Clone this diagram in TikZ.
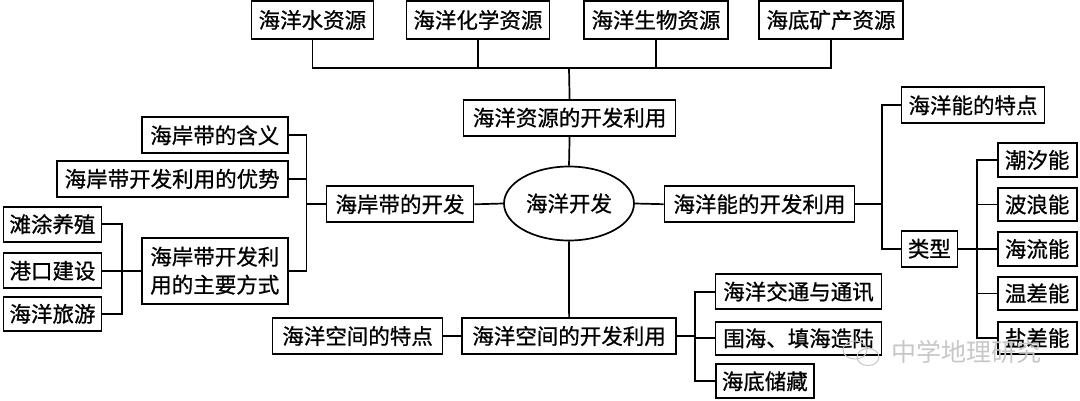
\documentclass[tikz,border=0pt]{standalone}
\usepackage{fontspec}
\newfontfamily\cjk[FakeBold=0.8]{Noto Sans CJK SC}
\newfontfamily\cjkwm{Noto Sans CJK SC}
\usetikzlibrary{shapes.geometric}
\tikzset{
  box/.style={draw, line width=1.7pt, inner sep=0pt, font=\cjk\fontsize{21.5}{28}\selectfont, align=center},
  conn/.style={line width=1.7pt},
  wm/.style={text=black!22, font=\cjkwm\fontsize{25}{28}\selectfont, inner sep=0pt}
}
\begin{document}
\begin{tikzpicture}[x=1pt,y=-1pt]
\useasboundingbox (0,0) rectangle (1080,400);
% top resources
\node[box, minimum width=122, minimum height=38] (t1) at (312.4,20) {海洋水资源};
\node[box, minimum width=143, minimum height=38] (t2) at (477.9,20) {海洋化学资源};
\node[box, minimum width=144, minimum height=38] (t3) at (656,20) {海洋生物资源};
\node[box, minimum width=144, minimum height=38] (t4) at (831,20) {海底矿产资源};
\node[box, minimum width=212, minimum height=36] (res) at (569.6,117.7) {海洋资源的开发利用};
% center
\node[box, ellipse, minimum width=130, minimum height=74] (ell) at (569,203.5) {海洋开发};
% coast
\node[box, minimum width=147, minimum height=36] (coast) at (400,204.3) {海岸带的开发};
\node[box, minimum width=146, minimum height=36] (hy) at (214.8,135.3) {海岸带的含义};
\node[box, minimum width=231, minimum height=36] (ys) at (172.2,178.9) {海岸带开发利用的优势};
\node[box, minimum width=146, minimum height=66] (fs) at (214.8,270.7) {海岸带开发利\\用的主要方式};
\node[box, minimum width=98, minimum height=35] (tt) at (52.5,224.2) {滩涂养殖};
\node[box, minimum width=98, minimum height=35] (gk) at (52.5,270.8) {港口建设};
\node[box, minimum width=98, minimum height=34] (ly) at (52.5,313.8) {海洋旅游};
% space
\node[box, minimum width=170, minimum height=36] (sptd) at (357.6,336) {海洋空间的特点};
\node[box, minimum width=214, minimum height=36] (sp) at (569.1,336) {海洋空间的开发利用};
\node[box, minimum width=166, minimum height=35] (jt) at (798.5,291.7) {海洋交通与通讯};
\node[box, minimum width=166, minimum height=33] (wh) at (798.5,338.3) {围海、填海造陆};
\node[box, minimum width=98, minimum height=34] (cc) at (764.8,381.3) {海底储藏};
% energy
\node[box, minimum width=190, minimum height=36] (energy) at (759.5,204.2) {海洋能的开发利用};
\node[box, minimum width=143, minimum height=36] (tdn) at (973,105.3) {海洋能的特点};
\node[box, minimum width=56, minimum height=36] (lx) at (929.4,248.7) {类型};
\node[box, minimum width=79, minimum height=33.4] (e1) at (1037.2,160) {潮汐能};
\node[box, minimum width=79, minimum height=32.4] (e2) at (1037.2,204.5) {波浪能};
\node[box, minimum width=79, minimum height=33.4] (e3) at (1037.2,249) {海流能};
\node[box, minimum width=79, minimum height=33.4] (e4) at (1037.2,293.4) {温差能};
\node[box, minimum width=79, minimum height=32.6] (e5) at (1037.2,338) {盐差能};
% connector junctions
\coordinate (bus) at (569,68.3);
\coordinate (cl) at (306.5,204.3);
\coordinate (fl) at (122.3,270.7);
\coordinate (sr) at (695,336);
\coordinate (er) at (882,204.2);
\coordinate (tr) at (976.7,248.7);
% connectors
\draw[conn] (t1.south) |- (bus);
\draw[conn] (t4.south) |- (bus);
\draw[conn] (t2.south) -- (t2.south |- bus);
\draw[conn] (t3.south) -- (t3.south |- bus);
\draw[conn] (bus) -- (res.north);
\draw[conn] (res.south) -- (ell.north);
\draw[conn] (ell.west) -- (coast.east);
\draw[conn] (ell.east) -- (energy.west);
\draw[conn] (ell.south) -- (sp.north);
\draw[conn] (hy.east) -| (cl) |- (fs.east);
\draw[conn] (ys.east) -- (ys.east -| cl);
\draw[conn] (coast.west) -- (cl);
\draw[conn] (tt.east) -| (fl) |- (ly.east);
\draw[conn] (gk.east) -- (gk.east -| fl);
\draw[conn] (fl) -- (fs.west);
\draw[conn] (sptd.east) -- (sp.west);
\draw[conn] (sp.east) -- (sr);
\draw[conn] (jt.west) -| (sr) |- (cc.west);
\draw[conn] (wh.west) -- (wh.west -| sr);
\draw[conn] (energy.east) -- (er);
\draw[conn] (tdn.west) -| (er) |- (lx.west);
\draw[conn] (lx.east) -- (tr);
\draw[conn] (e1.west) -| (tr) |- (e5.west);
\draw[conn] (e2.west) -- (e2.west -| tr);
\draw[conn] (e3.west) -- (e3.west -| tr);
\draw[conn] (e4.west) -- (e4.west -| tr);
% watermark
\draw[black!22, line width=1pt] (855,350) ellipse [x radius=12, y radius=9];
\draw[black!22, line width=1pt] (868,357) ellipse [x radius=11, y radius=8.5];
\node[wm] (wmtext) at (966,352) {中学地理研究};
\end{tikzpicture}
\end{document}
